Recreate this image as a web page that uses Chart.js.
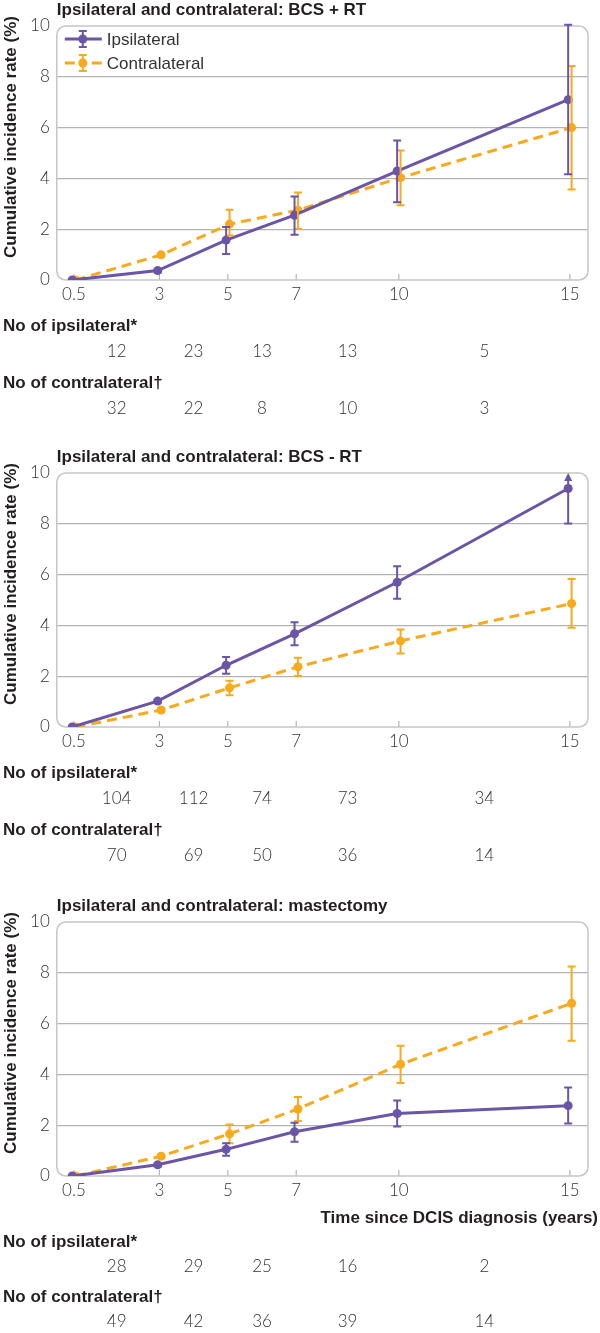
<!DOCTYPE html>
<html>
<head>
<meta charset="utf-8">
<script src="https://cdn.jsdelivr.net/npm/chart.js@4"></script>
<style>
  body { margin: 0; background: #fff; }
  #wrap { position: relative; width: 600px; height: 1333px; }
  canvas { position: absolute; left: 0; }
</style>
</head>
<body>
<div id="wrap">
  <canvas id="c1" width="600" height="440" style="top:0px"></canvas>
  <canvas id="c2" width="600" height="440" style="top:447px"></canvas>
  <canvas id="c3" width="600" height="437" style="top:896px"></canvas>
</div>
<script>
// x positions (years) and tick labels
const tickYears = [0.5, 3, 5, 7, 10, 15];
const tickLabels = ['0.5', '3', '5', '7', '10', '15'];
const ipsiYears = [0.45, 2.95, 4.95, 6.95, 9.95, 14.95];
const contraYears = [0.55, 3.05, 5.05, 7.05, 10.05, 15.05];

// BCS + RT
const rtIpsi = [0, 0.37, 1.57, 2.55, 4.29, 7.1];
const rtIpsiLow = [0, 0.3, 1.02, 1.78, 3.06, 4.16];
const rtIpsiHigh = [0, 0.44, 2.09, 3.29, 5.49, 10.05];
const rtContra = [0, 0.99, 2.2, 2.75, 4.03, 6.0];
const rtContraLow = [0, 0.92, 1.75, 2.01, 2.94, 3.56];
const rtContraHigh = [0, 1.06, 2.77, 3.44, 5.1, 8.43];
const rtIpsiCounts = [12, 23, 13, 13, 5];
const rtContraCounts = [32, 22, 8, 10, 3];

// BCS - RT
const noRtIpsi = [0, 1.02, 2.43, 3.67, 5.7, 9.39];
const noRtIpsiLow = [0, 0.95, 2.1, 3.22, 5.05, 8.01];
const noRtIpsiHigh = [0, 1.09, 2.76, 4.12, 6.33, 11];
const noRtContra = [0, 0.67, 1.54, 2.37, 3.39, 4.86];
const noRtContraLow = [0, 0.6, 1.25, 2.01, 2.89, 3.91];
const noRtContraHigh = [0, 0.74, 1.82, 2.73, 3.84, 5.83];
const noRtIpsiCounts = [104, 112, 74, 73, 34];
const noRtContraCounts = [70, 69, 50, 36, 14];

// mastectomy
const mxIpsi = [0, 0.44, 1.05, 1.74, 2.46, 2.77];
const mxIpsiLow = [0, 0.37, 0.8, 1.35, 1.95, 2.07];
const mxIpsiHigh = [0, 0.51, 1.29, 2.1, 2.97, 3.48];
const mxContra = [0, 0.78, 1.66, 2.64, 4.4, 6.8];
const mxContraLow = [0, 0.71, 1.29, 2.17, 3.66, 5.32];
const mxContraHigh = [0, 0.85, 2.03, 3.11, 5.13, 8.25];
const mxIpsiCounts = [28, 29, 25, 16, 2];
const mxContraCounts = [49, 42, 36, 39, 14];

const PURPLE = '#6a55a8';
const ORANGE = '#f9aa1c';
const TEXT = '#231f20';
const BOLD = 'bold 17px "Liberation Sans", Arial, sans-serif';
const REG = '17px "Liberation Sans", Arial, sans-serif';
const LIGHT_FAMILY = 'Lato, "Liberation Sans", sans-serif';

function pts(xs, ys) {
    return xs.map((x, i) => ({ x: x, y: ys[i] }));
}

function drawErrorBar(ctx, x, yLo, yHi, top, color, arrow) {
    ctx.save();
    ctx.strokeStyle = color;
    ctx.fillStyle = color;
    ctx.lineWidth = 2;
    ctx.setLineDash([]);
    ctx.beginPath();
    ctx.moveTo(x, yLo);
    ctx.lineTo(x, arrow ? top + 6 : yHi);
    ctx.stroke();
    ctx.beginPath();
    ctx.moveTo(x - 4, yLo); ctx.lineTo(x + 4, yLo);
    if (!arrow) { ctx.moveTo(x - 4, yHi); ctx.lineTo(x + 4, yHi); }
    ctx.stroke();
    if (arrow) {
        ctx.beginPath();
        ctx.moveTo(x, top);
        ctx.lineTo(x - 4, top + 8);
        ctx.lineTo(x + 4, top + 8);
        ctx.closePath();
        ctx.fill();
    }
    ctx.restore();
}

const panelDecor = {
    id: 'panelDecor',
    beforeDatasetsDraw(chart) {
        const { ctx, chartArea: a } = chart;
        const xs = chart.scales.x;
        ctx.save();
        // small tick marks inside the box
        ctx.strokeStyle = '#b5b5b5';
        ctx.lineWidth = 1.2;
        tickYears.forEach(v => {
            const px = xs.getPixelForValue(v);
            ctx.beginPath();
            ctx.moveTo(px, a.bottom);
            ctx.lineTo(px, a.bottom - 6);
            ctx.stroke();
        });
        // rounded frame
        const r = 9;
        ctx.strokeStyle = '#c6c6c6';
        ctx.lineWidth = 1.5;
        ctx.beginPath();
        ctx.moveTo(a.left + r, a.top);
        ctx.lineTo(a.right - r, a.top);
        ctx.arcTo(a.right, a.top, a.right, a.top + r, r);
        ctx.lineTo(a.right, a.bottom - r);
        ctx.arcTo(a.right, a.bottom, a.right - r, a.bottom, r);
        ctx.lineTo(a.left + r, a.bottom);
        ctx.arcTo(a.left, a.bottom, a.left, a.bottom - r, r);
        ctx.lineTo(a.left, a.top + r);
        ctx.arcTo(a.left, a.top, a.left + r, a.top, r);
        ctx.stroke();
        ctx.restore();
    },
    afterDatasetsDraw(chart) {
        const { ctx, chartArea: a } = chart;
        const xs = chart.scales.x, ys = chart.scales.y;
        chart.data.datasets.slice().reverse().forEach(ds => {
            ds.data.forEach((p, i) => {
                const hi = ds.errHigh[i], lo = ds.errLow[i];
                if (hi === lo) return;
                const arrow = hi > ys.max + 0.3;
                drawErrorBar(ctx, xs.getPixelForValue(p.x), ys.getPixelForValue(lo),
                    ys.getPixelForValue(hi), a.top, ds.borderColor, arrow);
            });
        });
    },
    afterDraw(chart, args, opts) {
        const { ctx, chartArea: a } = chart;
        const xs = chart.scales.x;
        ctx.save();
        ctx.fillStyle = TEXT;
        ctx.textBaseline = 'middle';

        // panel title
        ctx.font = BOLD;
        ctx.textAlign = 'left';
        ctx.fillText(opts.title, a.left, a.top - 16);

        // y axis title
        ctx.save();
        ctx.translate(11, a.top + 111);
        ctx.rotate(-Math.PI / 2);
        ctx.textAlign = 'center';
        ctx.font = BOLD;
        ctx.fillText('Cumulative incidence rate (%)', 0, 0);
        ctx.restore();

        // numbers at risk rows (last panel also carries the x axis title)
        let first = 46, gap = 57, numOff = 26;
        if (opts.xTitle) {
            ctx.textAlign = 'right';
            ctx.font = BOLD;
            ctx.fillText(opts.xTitle, 598, a.bottom + 42);
            first = 66; gap = 55; numOff = 25;
        }
        const mids = tickYears.slice(1).map((v, i) => xs.getPixelForValue((v + tickYears[i]) / 2));
        const rows = [['No of ipsilateral*', opts.ipsiCounts], ['No of contralateral\u2020', opts.contraCounts]];
        rows.forEach((row, k) => {
            const base = a.bottom + first + k * gap;
            ctx.textAlign = 'left';
            ctx.font = BOLD;
            ctx.fillStyle = TEXT;
            ctx.fillText(row[0], 3, base);
            ctx.textAlign = 'center';
            ctx.font = '300 17px ' + LIGHT_FAMILY;
            ctx.fillStyle = '#333';
            row[1].forEach((n, i) => ctx.fillText(String(n), mids[i], base + numOff));
        });

        // legend
        if (opts.legend) {
            chart.data.datasets.forEach((ds, i) => {
                const ly = a.top + 13 + i * 24;
                const lx0 = a.left + 8, lx1 = a.left + 45, mx = a.left + 26;
                ctx.save();
                ctx.strokeStyle = ds.borderColor;
                ctx.fillStyle = ds.borderColor;
                ctx.lineWidth = 3;
                ctx.beginPath();
                if (ds.borderDash && ds.borderDash.length) {
                    ctx.moveTo(lx0, ly); ctx.lineTo(lx0 + 10, ly);
                    ctx.moveTo(lx1 - 10, ly); ctx.lineTo(lx1, ly);
                } else {
                    ctx.moveTo(lx0, ly); ctx.lineTo(lx1, ly);
                }
                ctx.stroke();
                ctx.beginPath();
                ctx.arc(mx, ly, 4.5, 0, Math.PI * 2);
                ctx.fill();
                ctx.restore();
                drawErrorBar(ctx, mx, ly + 8, ly - 8, 0, ds.borderColor, false);
                ctx.fillStyle = '#333';
                ctx.textAlign = 'left';
                ctx.font = REG;
                ctx.fillText(ds.label, a.left + 50, ly + 1);
            });
        }
        ctx.restore();
    }
};

function makePanel(id, cfg) {
    const canvas = document.getElementById(id);
    const H = canvas.height;
    new Chart(canvas, {
        type: 'line',
        data: {
            datasets: [{
                label: 'Ipsilateral',
                data: pts(ipsiYears, cfg.ipsi),
                errLow: cfg.ipsiLow,
                errHigh: cfg.ipsiHigh,
                borderColor: PURPLE,
                backgroundColor: PURPLE,
                borderWidth: 3,
                pointRadius: 4.5,
                pointBorderWidth: 0,
                tension: 0
            }, {
                label: 'Contralateral',
                data: pts(contraYears, cfg.contra),
                errLow: cfg.contraLow,
                errHigh: cfg.contraHigh,
                borderColor: ORANGE,
                backgroundColor: ORANGE,
                borderWidth: 3,
                borderDash: [10, 6],
                pointRadius: 4.5,
                pointBorderWidth: 0,
                tension: 0
            }]
        },
        options: {
            responsive: false,
            animation: false,
            layout: { padding: { top: 26, right: 12, left: 0, bottom: H - 26 - 254 - 34 } },
            plugins: {
                legend: { display: false },
                tooltip: { enabled: false },
                panelDecor: cfg.decor
            },
            scales: {
                x: {
                    type: 'linear',
                    min: 0,
                    max: 15.53,
                    afterFit: s => { s.height = 34; },
                    afterBuildTicks: s => { s.ticks = tickYears.map(v => ({ value: v })); },
                    grid: { display: false, drawTicks: false },
                    border: { display: false },
                    ticks: {
                        autoSkip: false,
                        maxRotation: 0,
                        padding: 4,
                        color: '#333',
                        font: { family: LIGHT_FAMILY, size: 17, weight: '300' },
                        callback: v => tickLabels[tickYears.indexOf(v)]
                    }
                },
                y: {
                    min: 0,
                    max: 10,
                    afterFit: s => { s.width = 56.8; },
                    grid: {
                        drawTicks: false,
                        lineWidth: 1.3,
                        color: c => (c.tick && (c.tick.value === 0 || c.tick.value === 10)) ? 'rgba(0,0,0,0)' : '#b3b3b3'
                    },
                    border: { display: false },
                    ticks: {
                        stepSize: 2,
                        padding: 7,
                        color: '#333',
                        font: { family: LIGHT_FAMILY, size: 17, weight: '300' }
                    }
                }
            }
        },
        plugins: [panelDecor]
    });
}

makePanel('c1', {
    ipsi: rtIpsi, ipsiLow: rtIpsiLow, ipsiHigh: rtIpsiHigh,
    contra: rtContra, contraLow: rtContraLow, contraHigh: rtContraHigh,
    decor: { title: 'Ipsilateral and contralateral: BCS + RT', legend: true,
             ipsiCounts: rtIpsiCounts, contraCounts: rtContraCounts }
});
makePanel('c2', {
    ipsi: noRtIpsi, ipsiLow: noRtIpsiLow, ipsiHigh: noRtIpsiHigh,
    contra: noRtContra, contraLow: noRtContraLow, contraHigh: noRtContraHigh,
    decor: { title: 'Ipsilateral and contralateral: BCS - RT', legend: false,
             ipsiCounts: noRtIpsiCounts, contraCounts: noRtContraCounts }
});
makePanel('c3', {
    ipsi: mxIpsi, ipsiLow: mxIpsiLow, ipsiHigh: mxIpsiHigh,
    contra: mxContra, contraLow: mxContraLow, contraHigh: mxContraHigh,
    decor: { title: 'Ipsilateral and contralateral: mastectomy', legend: false,
             xTitle: 'Time since DCIS diagnosis (years)',
             ipsiCounts: mxIpsiCounts, contraCounts: mxContraCounts }
});
</script>
</body>
</html>
